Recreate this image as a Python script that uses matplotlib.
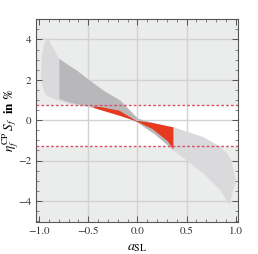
import matplotlib
matplotlib.use("Agg")
import matplotlib.pyplot as plt
from matplotlib.ticker import MultipleLocator

plt.rcParams["font.family"] = "STIXGeneral"
plt.rcParams["mathtext.fontset"] = "stix"

# allowed band (light gray)
band_x = [-0.985, -0.975, -0.96, -0.94, -0.91, -0.89, -0.80, -0.69, -0.62, -0.49,
          -0.35, -0.18, 0.0, 0.18, 0.366, 0.50, 0.67, 0.84, 0.91, 0.93, 0.95, 0.99, 1.0]
band_hi = [2.6, 3.3, 3.7, 3.95, 4.1, 3.85, 3.06, 2.7, 2.48, 1.99,
           1.49, 1.0, 0.1, -0.15, -0.33, -0.55, -0.82, -1.3, -1.64, -1.8, -2.0, -2.8, -3.2]
band_lo = [2.2, 1.8, 1.5, 1.3, 1.2, 1.16, 0.98, 0.83, 0.77, 0.66,
           0.5, 0.3, -0.1, -0.7, -1.5, -1.98, -2.63, -3.46, -4.0, -4.2, -3.8, -3.1, -3.2]

# subset (darker gray)
dark_x = [-0.80, -0.69, -0.62, -0.49, -0.35, -0.18, 0.0, 0.18, 0.36]
dark_hi = [3.06, 2.7, 2.48, 1.99, 1.49, 1.0, 0.1, -0.15, -0.33]
dark_lo = [1.08, 0.9, 0.82, 0.7, 0.52, 0.3, -0.1, -0.7, -1.45]

# red region
red_x = [-0.45, -0.36, -0.19, -0.02, 0.147, 0.30, 0.36]
red_hi = [0.71, 0.66, 0.50, 0.0, -0.11, -0.27, -0.33]
red_lo = [0.64, 0.50, 0.25, -0.02, -0.41, -1.0, -1.40]

# experimental limits
s_upper = 0.74
s_lower = -1.27

fig = plt.figure(figsize=(2.58, 2.54), dpi=100)
ax = fig.add_axes([0.1395, 0.127, 0.783, 0.797])
ax.set_facecolor("#ebecec")
ax.set_xlim(-1.032, 1.023)
ax.set_ylim(-5.03, 5.0)

ax.axhspan(s_lower, s_upper, color="white", zorder=0)
for v in [-0.5, 0.0, 0.5]:
    ax.axvline(v, color="#d2d2d2", lw=1.0, zorder=0.5)
for v in [-4, -2, 0, 2, 4]:
    ax.axhline(v, color="#d2d2d2", lw=1.0, zorder=0.5)

ax.fill_between(band_x, band_lo, band_hi, color="#dadadc", lw=0, zorder=1)
ax.fill_between(dark_x, dark_lo, dark_hi, color="#b8b8ba", lw=0, zorder=2)
ax.fill_between(red_x, red_lo, red_hi, color="#e6391e", lw=0, zorder=3)

ax.axhline(s_upper, color="#d9506a", lw=1.0, ls=(0, (2, 1.5)), zorder=4)
ax.axhline(s_lower, color="#d9506a", lw=1.0, ls=(0, (2, 1.5)), zorder=4)

ax.xaxis.set_major_locator(MultipleLocator(0.5))
ax.xaxis.set_minor_locator(MultipleLocator(0.1))
ax.yaxis.set_major_locator(MultipleLocator(2))
ax.yaxis.set_minor_locator(MultipleLocator(0.5))
ax.tick_params(which="both", direction="in", top=True, right=True,
               color="#555555", labelsize=8, labelcolor="#333333")
ax.tick_params(which="major", length=4, width=0.7)
ax.tick_params(which="minor", length=2, width=0.5)
ax.set_xticks([-1.0, -0.5, 0.0, 0.5, 1.0])
ax.set_xticklabels(["\u22121.0", "\u22120.5", "0.0", "0.5", "1.0"])
ax.set_yticks([-4, -2, 0, 2, 4])
ax.set_yticklabels(["\u22124", "\u22122", "0", "2", "4"])
for s in ax.spines.values():
    s.set_color("#555555")
    s.set_linewidth(0.8)

ax.set_xlabel(r"$a_{\mathrm{SL}}$", fontsize=10, labelpad=3)
ax.set_ylabel(r"$\eta_f^{\mathrm{CP}}\;S_f$  in %", fontsize=9.5, fontweight="bold")
ax.yaxis.set_label_coords(-0.072, 0.5)

fig.savefig("out.png", dpi=100)
